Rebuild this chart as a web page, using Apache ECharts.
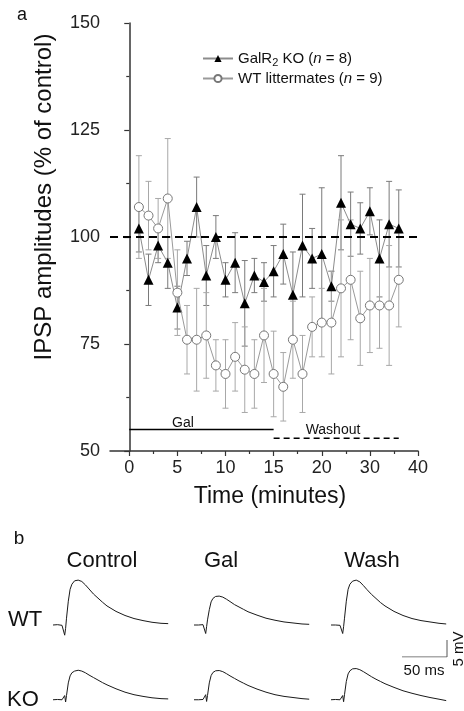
<!DOCTYPE html>
<html>
<head>
<meta charset="utf-8">
<script src="https://cdn.jsdelivr.net/npm/echarts@6/dist/echarts.min.js"></script>
<style>
  html, body { margin: 0; padding: 0; background: #fff; }
  #chart { width: 464px; height: 711px; }
</style>
</head>
<body>
<div id="chart"></div>
<script>
// panel a: time in minutes (axis is evenly spaced, labels read 0..20,30,40)
const times = [1, 2, 3, 4, 5, 6, 7, 8, 9, 10, 11, 12, 13, 14, 15, 16, 17, 18, 19, 20, 21, 22, 23, 24, 25, 26, 27, 28];
const koMean = [102, 90, 98, 94, 83.5, 95, 107, 91, 100, 90, 94, 84.5, 91, 89.5, 92, 96, 86.5, 98, 95, 96, 88.5, 108, 103, 102, 106, 95, 103, 102];
const koSem = [5.5, 6, 4, 6, 5, 4, 7, 7, 5, 4, 7, 10, 4, 4.5, 6, 7, 10, 12, 7, 15.5, 3.5, 11, 7.5, 6, 5.5, 9, 10, 9];
const wtMean = [107, 105, 102, 109, 87, 76, 76, 77, 70, 68, 72, 69, 68, 77, 68, 65, 76, 68, 79, 80, 80, 88, 90, 81, 84, 84, 84, 90];
const wtSem = [12, 8, 7, 14, 10, 8, 12, 10, 6, 8, 8, 10, 8, 11, 10, 8, 9, 9, 7, 8, 12, 16, 14, 11, 11, 10, 14, 11];

const xTickValues = [0, 5, 10, 15, 20, 25, 30];
const xTickLabels = ['0', '5', '10', '15', '20', '30', '40'];
const xMinorTicks = [2.5, 7.5, 12.5, 17.5, 22.5, 27.5];

const controlLevel = 100;
const galPeriod = [0, 15];
const galLevel = 55;
const washPeriod = [15, 28];
const washLevel = 53;

// panel b: traces, ms vs mV
const traceMs = [0, 5, 10, 12, 13, 14, 15, 17, 19, 21, 24, 28, 32, 36, 40, 45, 50, 55, 60, 70, 80, 90, 100, 110, 120, 128];
const wtControl = [0, 0.1, -0.1, 0, -3, -1, 2, 7, 10.5, 12, 13, 13.2, 12.8, 11.8, 10.6, 9.1, 7.9, 6.7, 5.6, 4.0, 2.8, 1.9, 1.3, 0.8, 0.5, 0.4];
const wtGal = [0, 0, 0.1, 0, -2.5, -0.5, 1.5, 4.5, 6.8, 7.8, 8.4, 8.5, 8.2, 7.6, 6.9, 6.0, 5.3, 4.6, 3.9, 2.9, 2.0, 1.4, 0.9, 0.6, 0.3, 0.2];
const wtWash = [0, 0, -0.1, 0, -2.5, -0.5, 2, 7, 10.5, 12, 12.9, 13.2, 12.7, 11.6, 10.4, 9.0, 7.8, 6.6, 5.6, 4.0, 2.8, 1.9, 1.3, 0.9, 0.5, 0.3];
const koControl = [0, 0.1, 0, 0, 1.5, -0.8, 1.5, 6, 8.5, 9.6, 10.2, 10.5, 10.2, 9.6, 8.8, 7.9, 7.0, 6.1, 5.3, 3.9, 2.7, 1.8, 1.2, 0.7, 0.4, 0.3];
const koGal = [0, 0, 0.1, 0, 1.8, -0.6, 1.5, 6, 8.6, 9.7, 10.3, 10.4, 10.0, 9.3, 8.5, 7.6, 6.7, 5.9, 5.1, 3.8, 2.7, 1.8, 1.2, 0.8, 0.4, 0.2];
const koWash = [0, 0.1, 0, 0, 1.5, -0.7, 1.8, 6.5, 9.2, 10.3, 11.0, 11.1, 10.7, 10.0, 9.2, 8.2, 7.3, 6.5, 5.7, 4.4, 3.2, 2.3, 1.5, 0.8, 0.2, -0.3];
const scaleMs = 50;
const scaleMv = 5;

const FONT = '"Liberation Sans", Arial, sans-serif';
const chart = echarts.init(document.getElementById('chart'), null, { renderer: 'canvas' });

const errData = (mean, sem) => times.map((t, i) => [t, mean[i] - sem[i], mean[i] + sem[i]]);

const errorBars = (color) => (params, api) => {
  const x = api.value(0);
  const lo = api.coord([x, api.value(1)]);
  const hi = api.coord([x, api.value(2)]);
  const w = 3;
  const style = { stroke: color, lineWidth: 1 };
  return {
    type: 'group',
    children: [
      { type: 'line', shape: { x1: lo[0], y1: lo[1], x2: hi[0], y2: hi[1] }, style },
      { type: 'line', shape: { x1: hi[0] - w, y1: hi[1], x2: hi[0] + w, y2: hi[1] }, style },
      { type: 'line', shape: { x1: lo[0] - w, y1: lo[1], x2: lo[0] + w, y2: lo[1] }, style }
    ]
  };
};

// trace panels layout (px)
const traceCols = [53, 194, 331];
const traceRowBase = [625, 708];
const pxPerMs = 0.9, pxPerMv = 3.4;
const vMin = -4, vMax = 14, tMax = 128;
const traceSets = [[wtControl, wtGal, wtWash], [koControl, koGal, koWash]];

const grids = [{ left: 110, right: 46, top: 23, bottom: 260 }];
const xAxes = [
  {
    type: 'value', gridIndex: 0, min: -2, max: 30,
    axisLine: { show: true, lineStyle: { color: '#333', width: 1.5 } },
    axisTick: { show: true, length: 5, inside: false, customValues: xTickValues, lineStyle: { color: '#333', width: 1.2 } },
    axisLabel: {
      show: true, customValues: xTickValues, margin: 8,
      fontFamily: FONT, fontSize: 18, color: '#222',
      formatter: (v) => {
        const k = xTickValues.indexOf(v);
        return k >= 0 ? xTickLabels[k] : '';
      }
    },
    splitLine: { show: false }
  },
  {
    type: 'value', gridIndex: 0, min: -2, max: 30, position: 'bottom',
    axisLine: { show: false },
    axisTick: { show: true, length: 3, customValues: xMinorTicks, lineStyle: { color: '#333', width: 1.2 } },
    axisLabel: { show: false, customValues: xMinorTicks },
    splitLine: { show: false }
  }
];
const yAxes = [
  {
    type: 'value', gridIndex: 0, min: 50, max: 150, interval: 25,
    axisLine: { show: true, lineStyle: { color: '#333', width: 1.5 } },
    axisTick: { show: true, length: 5, lineStyle: { color: '#333', width: 1.2 } },
    minorTick: { show: true, splitNumber: 2, length: 3, lineStyle: { color: '#333', width: 1.2 } },
    axisLabel: { margin: 10, fontFamily: FONT, fontSize: 18, color: '#222' },
    splitLine: { show: false }
  }
];

const series = [
  {
    name: 'KOerr', type: 'custom', xAxisIndex: 0, yAxisIndex: 0, z: 2,
    renderItem: errorBars('#7a7a7a'), data: errData(koMean, koSem), encode: { x: 0, y: [1, 2] }
  },
  {
    name: 'WTerr', type: 'custom', xAxisIndex: 0, yAxisIndex: 0, z: 2,
    renderItem: errorBars('#a8a8a8'), data: errData(wtMean, wtSem), encode: { x: 0, y: [1, 2] }
  },
  {
    name: 'KO', type: 'line', xAxisIndex: 0, yAxisIndex: 0, z: 4,
    data: times.map((t, i) => [t, koMean[i]]),
    symbol: 'triangle', symbolSize: 10, showAllSymbol: true,
    itemStyle: { color: '#000', borderWidth: 0 },
    lineStyle: { color: '#8c8c8c', width: 1 },
    markLine: {
      silent: true, symbol: 'none', label: { show: false },
      lineStyle: { color: '#000', width: 2, type: [8, 5] },
      data: [{ yAxis: controlLevel }]
    }
  },
  {
    name: 'WT', type: 'line', xAxisIndex: 0, yAxisIndex: 0, z: 5,
    data: times.map((t, i) => [t, wtMean[i]]),
    symbol: 'circle', symbolSize: 9, showAllSymbol: true,
    itemStyle: { color: '#fff', borderColor: '#777', borderWidth: 1 },
    lineStyle: { color: '#9a9a9a', width: 1 }
  },
  {
    name: 'Gal', type: 'line', xAxisIndex: 0, yAxisIndex: 0, symbol: 'none',
    data: galPeriod.map((t) => [t, galLevel]),
    lineStyle: { color: '#000', width: 1.5 }
  },
  {
    name: 'Washout', type: 'line', xAxisIndex: 0, yAxisIndex: 0, symbol: 'none',
    data: washPeriod.map((t) => [t, washLevel]),
    lineStyle: { color: '#000', width: 1.5, type: [6, 4] }
  }
];

const addPanel = (box, xMax, yMin, yMax, data, color) => {
  grids.push(box);
  const g = grids.length - 1;
  xAxes.push({ type: 'value', gridIndex: g, min: 0, max: xMax, show: false });
  yAxes.push({ type: 'value', gridIndex: g, min: yMin, max: yMax, show: false });
  series.push({
    type: 'line', xAxisIndex: xAxes.length - 1, yAxisIndex: yAxes.length - 1, symbol: 'none',
    data, lineStyle: { color, width: 1 }
  });
};

traceSets.forEach((row, r) => {
  row.forEach((vals, c) => {
    addPanel(
      { left: traceCols[c], top: traceRowBase[r] - vMax * pxPerMv, width: tMax * pxPerMs, height: (vMax - vMin) * pxPerMv },
      tMax, vMin, vMax, traceMs.map((t, i) => [t, vals[i]]), '#1a1a1a'
    );
  });
});
// scale bar
addPanel(
  { left: 402, top: 640, width: scaleMs * pxPerMs, height: scaleMv * pxPerMv },
  scaleMs, 0, scaleMv, [[0, 0], [scaleMs, 0], [scaleMs, scaleMv]], '#555'
);

const txt = (x, y, text, size, rot) => ({
  type: 'text', x, y, rotation: rot || 0,
  style: { text, fontFamily: FONT, fontSize: size, fill: '#111', align: 'center', verticalAlign: 'middle' }
});

chart.setOption({
  animation: false,
  backgroundColor: '#fff',
  grid: grids,
  xAxis: xAxes,
  yAxis: yAxes,
  legend: {
    data: ['KO', 'WT'],
    orient: 'vertical', left: 197, top: 46,
    itemWidth: 30, itemHeight: 9, itemGap: 3,
    formatter: (name) => name === 'KO' ? 'GalR{s|2} KO ({i|n} = 8)' : 'WT littermates ({i|n} = 9)',
    textStyle: {
      fontFamily: FONT, fontSize: 15, color: '#111',
      rich: {
        s: { fontFamily: FONT, fontSize: 11, color: '#111', padding: [8, 0, 0, 0] },
        i: { fontFamily: FONT, fontSize: 15, color: '#111', fontStyle: 'italic' }
      }
    }
  },
  graphic: [
    txt(22, 15, 'a', 18),
    txt(44, 197, 'IPSP amplitudes (% of control)', 24, Math.PI / 2),
    txt(270, 497, 'Time (minutes)', 23),
    txt(183, 423, 'Gal', 14),
    txt(333, 430, 'Washout', 14),
    txt(19, 539, 'b', 19),
    txt(102, 561, 'Control', 22),
    txt(221, 561, 'Gal', 22),
    txt(372, 561, 'Wash', 22),
    txt(25, 620, 'WT', 22),
    txt(23, 700, 'KO', 22),
    txt(424, 671, '50 ms', 15),
    txt(459, 649, '5 mV', 15, Math.PI / 2)
  ],
  series
});
</script>
</body>
</html>
